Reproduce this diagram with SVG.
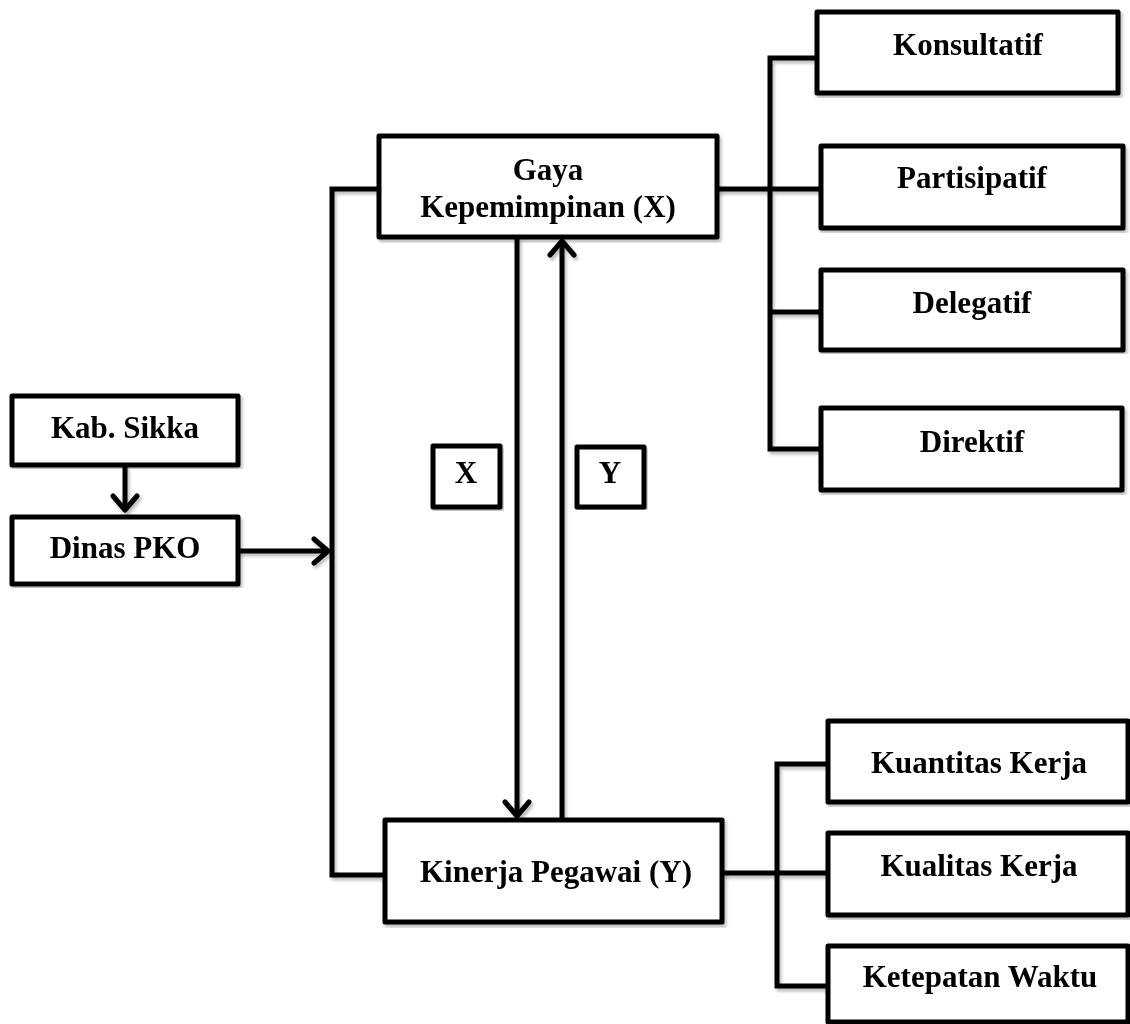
<svg xmlns="http://www.w3.org/2000/svg" width="1130" height="1024" viewBox="0 0 1130 1024">
<style>
.box{fill:#fff;stroke:#000;stroke-width:5;stroke-linejoin:round}
.ln{fill:none;stroke:#000;stroke-width:5}
.t{font-family:"Liberation Serif","Times New Roman",serif;font-weight:bold;font-size:31px;fill:#000;text-anchor:middle}
</style>
<defs>
<filter id="sh" x="-5%" y="-5%" width="110%" height="110%">
<feDropShadow dx="2" dy="3" stdDeviation="1.5" flood-color="#000" flood-opacity="0.25"/>
</filter>
<marker id="ah" markerUnits="userSpaceOnUse" markerWidth="30" markerHeight="30" viewBox="-20 -15 24 30" refX="0" refY="0" orient="auto">
<path d="M-14,-12 L0,0 L-14,12" fill="none" stroke="#000" stroke-width="5" stroke-linecap="round" stroke-linejoin="round"/>
</marker>
</defs>
<rect width="1130" height="1024" fill="#fff"/>
<g id="connectors" filter="url(#sh)">
<line class="ln" x1="125" y1="465" x2="125" y2="510" marker-end="url(#ah)"/>
<line class="ln" x1="238" y1="551" x2="328" y2="551" marker-end="url(#ah)"/>
<polyline class="ln" points="379,189 332,189 332,875 385,875"/>
<polyline class="ln" points="717,189 821,189"/>
<polyline class="ln" points="817,58 770,58 770,449 821,449"/>
<line class="ln" x1="770" y1="312" x2="821" y2="312"/>
<line class="ln" x1="517" y1="237" x2="517" y2="816" marker-end="url(#ah)"/>
<line class="ln" x1="562" y1="820" x2="562" y2="241" marker-end="url(#ah)"/>
<polyline class="ln" points="828,764 777,764 777,986 828,986"/>
<line class="ln" x1="722" y1="873" x2="828" y2="873"/>
</g>
<g id="kab-sikka" filter="url(#sh)"><rect class="box" x="12" y="396" width="226" height="69"/><text class="t" x="125" y="438">Kab. Sikka</text></g>
<g id="dinas-pko" filter="url(#sh)"><rect class="box" x="12" y="517" width="226" height="67"/><text class="t" x="125" y="558">Dinas PKO</text></g>
<g id="gaya" filter="url(#sh)"><rect class="box" x="379" y="136" width="338" height="101"/><text class="t" x="548" y="180">Gaya</text><text class="t" x="548" y="217">Kepemimpinan (X)</text></g>
<g id="kinerja" filter="url(#sh)"><rect class="box" x="385" y="820" width="337" height="102"/><text class="t" x="556" y="882">Kinerja Pegawai (Y)</text></g>
<g id="label-x" filter="url(#sh)"><rect class="box" x="433" y="446" width="67" height="61"/><text class="t" x="466" y="483" font-size="28">X</text></g>
<g id="label-y" filter="url(#sh)"><rect class="box" x="577" y="447" width="67" height="60"/><text class="t" x="610" y="483" font-size="28">Y</text></g>
<g id="konsultatif" filter="url(#sh)"><rect class="box" x="817" y="12" width="301" height="81"/><text class="t" x="968" y="55">Konsultatif</text></g>
<g id="partisipatif" filter="url(#sh)"><rect class="box" x="821" y="146" width="302" height="82"/><text class="t" x="972" y="188">Partisipatif</text></g>
<g id="delegatif" filter="url(#sh)"><rect class="box" x="821" y="270" width="302" height="80"/><text class="t" x="972" y="313">Delegatif</text></g>
<g id="direktif" filter="url(#sh)"><rect class="box" x="821" y="408" width="301" height="82"/><text class="t" x="972" y="452">Direktif</text></g>
<g id="kuantitas" filter="url(#sh)"><rect class="box" x="828" y="721" width="300" height="81"/><text class="t" x="979" y="773">Kuantitas Kerja</text></g>
<g id="kualitas" filter="url(#sh)"><rect class="box" x="828" y="833" width="300" height="82"/><text class="t" x="979" y="876">Kualitas Kerja</text></g>
<g id="ketepatan" filter="url(#sh)"><rect class="box" x="828" y="946" width="300" height="76"/><text class="t" x="980" y="987">Ketepatan Waktu</text></g>
</svg>
